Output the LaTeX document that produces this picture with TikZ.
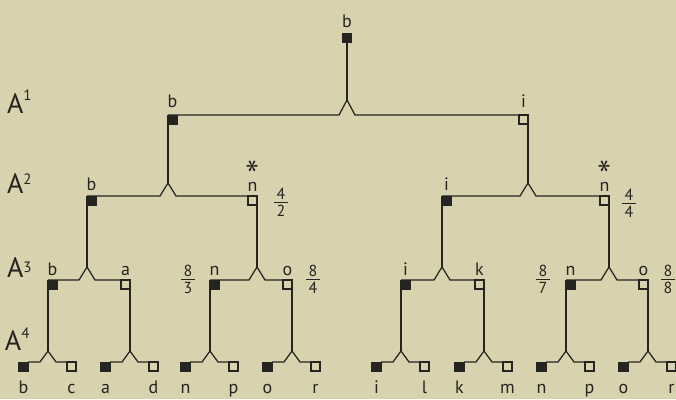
\documentclass[tikz,border=0pt]{standalone}
\usepackage{fontspec}
\setmainfont{PT Sans}
\definecolor{paper}{RGB}{217,210,174}
\definecolor{ink}{RGB}{38,36,32}
\newcommand\fork[6]{% id, junction x, horizontal y, left x, right x, leg height
  \coordinate (#1a) at (#2,#3-#6);
  \coordinate (#1l) at (#4,#3);
  \coordinate (#1r) at (#5,#3);
  \draw (#1l) -- (#2-8,#3) -- (#1a) -- (#2+8,#3) -- (#1r);
}
\newcommand\inner[1]{% squares at the corners of fork #1
  \node[fsq, anchor=north west] (#1F) at (#1l) {};
  \node[osq, anchor=north east] (#1O) at (#1r) {};
}
\newcommand\leaf[5]{% id, junction x, parent corner, left label, right label
  \fork{#1}{#2}{362}{#2-20}{#2+19}{11}
  \draw (#3) -- (#1a);
  \node[fsq, anchor=north east] (#1F) at (#1l) {};
  \node[osq, anchor=north east] (#1O) at (#2+28,362) {};
  \node[lbl] (#1FL) at (#2-24.5,393) {#4};
  \node[lbl] (#1OL) at (#2+23.5,393) {#5};
}
\newcommand\myfrac[5]{% id, x, bar y, numerator, denominator
  \node[frc] (#1n) at (#2,#3-8.5) {#4};
  \node[frc] (#1d) at (#2,#3+9) {#5};
  \coordinate (#1bl) at (#2-7,#3);
  \coordinate (#1br) at (#2+7,#3);
  \draw[line width=1pt] (#1bl) -- (#1br);
}
\newcommand\lev[2]{A\raisebox{#2pt}{\fontsize{15}{15}\selectfont #1}}
\begin{document}
\begin{tikzpicture}[x=1pt,y=-1pt, line width=1.25pt, draw=ink, ink,
  every node/.style={inner sep=0pt, outer sep=0pt},
  fsq/.style={draw=ink, fill=ink, line width=0.6pt, minimum size=9.5pt},
  osq/.style={draw=ink, fill=none, line width=1.1pt, minimum size=9pt},
  lbl/.style={font=\fontsize{18}{18}\selectfont, anchor=base},
  levl/.style={font=\fontsize{28}{28}\selectfont, anchor=base west},
  frc/.style={font=\fontsize{16}{16}\selectfont},
  star/.style={font=\fontsize{26}{26}\selectfont\boldmath, rotate=90}]
\fill[paper] (0,0) rectangle (676,399);
\useasboundingbox (0,0) rectangle (676,399);

% level labels
\node[levl] (l1) at (7,113) {\lev{1}{13}};
\node[levl] (l2) at (7,193) {\lev{2}{9}};
\node[levl] (l3) at (7,277) {\lev{3}{5}};
\node[levl] (l4) at (5,350) {\lev{4}{12}};

% root
\node[fsq] (R) at (347,38) {};
\node[lbl] (Rb) at (347,27) {b};
\fork{r}{347}{115}{168}{528}{15}
\draw (R) -- (ra);
\inner{r}
\node[lbl] at (172.5,107) {b};
\node[lbl] at (523.5,107) {i};

% level 2
\fork{p}{168}{196}{87}{257}{13}
\draw (rl) -- (pa);
\inner{p}
\fork{q}{528}{196}{442}{609}{13}
\draw (rr) -- (qa);
\inner{q}
\node[lbl] at (91.5,190) {b};
\node[lbl] at (252.5,191) {n};
\node[star] at (252.5,166) {$\ast$};
\node[lbl] at (446.5,190) {i};
\node[lbl] at (604.5,191) {n};
\node[star] at (604.5,166) {$\ast$};
\myfrac{fa}{281}{202}{4}{2}
\myfrac{fb}{629}{203}{4}{4}

% level 3
\fork{pa1}{87}{280}{48}{130}{13}   \draw (pl) -- (pa1a); \inner{pa1}
\fork{pb1}{257}{280}{210}{292}{13} \draw (pr) -- (pb1a); \inner{pb1}
\fork{qa1}{442}{280}{401}{484}{13} \draw (ql) -- (qa1a); \inner{qa1}
\fork{qb1}{609}{280}{566}{648}{13} \draw (qr) -- (qb1a); \inner{qb1}
\node[lbl] at (52.5,275) {b};
\node[lbl] at (125.5,275) {a};
\node[lbl] at (214.5,275) {n};
\node[lbl] at (287.5,275) {o};
\node[lbl] at (405.5,275) {i};
\node[lbl] at (479.5,275) {k};
\node[lbl] at (570.5,275) {n};
\node[lbl] at (643.5,275) {o};
\myfrac{fc}{188}{279}{8}{3}
\myfrac{fd}{313}{279}{8}{4}
\myfrac{fe}{543}{279}{8}{7}
\myfrac{ff}{668}{279}{8}{8}

% level 4
\leaf{u1}{48}{pa1l}{b}{c}
\leaf{u2}{130}{pa1r}{a}{d}
\leaf{u3}{210}{pb1l}{n}{p}
\leaf{u4}{292}{pb1r}{o}{r}
\leaf{u5}{401}{qa1l}{i}{l}
\leaf{u6}{484}{qa1r}{k}{m}
\leaf{u7}{566}{qb1l}{n}{p}
\leaf{u8}{648}{qb1r}{o}{r}
\end{tikzpicture}
\end{document}
